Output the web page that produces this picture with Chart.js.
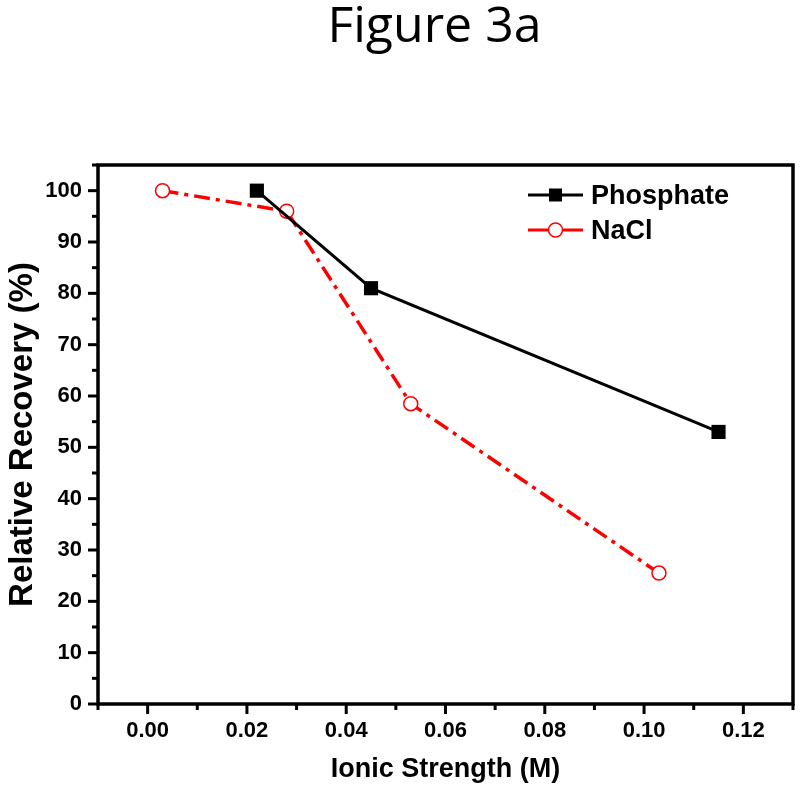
<!DOCTYPE html>
<html>
<head>
<meta charset="utf-8">
<script src="https://cdn.jsdelivr.net/npm/chart.js@4.4.0/dist/chart.umd.min.js"></script>
<style>
  body { margin: 0; background: #fff; }
  #wrap { width: 800px; height: 794px; }
</style>
</head>
<body>
<div id="wrap"><canvas id="chart" width="800" height="794"></canvas></div>
<script>
// Data
const phosphateX = [0.022, 0.045, 0.115];
const phosphateY = [100, 81, 53];
const naclX = [0.003, 0.028, 0.053, 0.103];
const naclY = [100, 96, 58.5, 25.5];
const seriesNames = ['Phosphate', 'NaCl'];

const toPoints = (xs, ys) => xs.map((x, i) => ({ x: x, y: ys[i] }));

// Ticks drawn by hand so that minor ticks can be shorter than major ones
const tickPlugin = {
    id: 'axisTicks',
    afterDraw(chart) {
        const { ctx, chartArea: a, scales } = chart;
        ctx.save();
        ctx.strokeStyle = '#000';
        ctx.lineWidth = 3.5;
        ctx.strokeRect(a.left, a.top, a.right - a.left, a.bottom - a.top);
        ctx.lineWidth = 3;
        scales.x.ticks.forEach(t => {
            const px = scales.x.getPixelForValue(t.value);
            const major = Math.round(t.value * 100) % 2 === 0;
            ctx.beginPath();
            ctx.moveTo(px, a.bottom);
            ctx.lineTo(px, a.bottom + (major ? 10 : 6));
            ctx.stroke();
        });
        scales.y.ticks.forEach(t => {
            const py = scales.y.getPixelForValue(t.value);
            const major = Math.round(t.value) % 10 === 0;
            ctx.beginPath();
            ctx.moveTo(a.left, py);
            ctx.lineTo(a.left - (major ? 10 : 6), py);
            ctx.stroke();
        });
        ctx.restore();
    }
};

// Figure caption, centred over the plot
const captionPlugin = {
    id: 'caption',
    afterDraw(chart) {
        const { ctx, chartArea: a } = chart;
        ctx.save();
        ctx.font = '50px "Open Sans", sans-serif';
        ctx.fillStyle = '#000';
        ctx.textAlign = 'center';
        ctx.textBaseline = 'alphabetic';
        ctx.fillText('Figure 3a', (a.left + a.right) / 2 - 11, 42);
        ctx.restore();
    }
};

// Legend inside the plot, top right
const legendPlugin = {
    id: 'innerLegend',
    afterDraw(chart) {
        const { ctx, chartArea: a } = chart;
        const x0 = a.right - 265, y0 = a.top + 30, gap = 35;
        ctx.save();
        ctx.font = 'bold 27px "Liberation Sans", Arial, sans-serif';
        ctx.textBaseline = 'alphabetic';
        chart.data.datasets.forEach((ds, i) => {
            const y = y0 + i * gap;
            ctx.strokeStyle = ds.borderColor;
            ctx.lineWidth = 3;
            ctx.setLineDash([]);
            ctx.beginPath();
            ctx.moveTo(x0, y);
            ctx.lineTo(x0 + 55, y);
            ctx.stroke();
            if (i === 0) {
                ctx.fillStyle = '#000';
                ctx.fillRect(x0 + 21, y - 6.5, 13, 13);
            } else {
                ctx.fillStyle = '#fff';
                ctx.lineWidth = 1.5;
                ctx.beginPath();
                ctx.arc(x0 + 27.5, y, 7, 0, Math.PI * 2);
                ctx.fill();
                ctx.stroke();
            }
            ctx.fillStyle = '#000';
            ctx.fillText(ds.label, x0 + 63, y + 9);
        });
        ctx.restore();
    }
};

const tickFont = { family: '"Liberation Sans", Arial, sans-serif', size: 22, weight: 'bold' };

new Chart(document.getElementById('chart'), {
    type: 'scatter',
    data: {
        datasets: [
            {
                label: seriesNames[0],
                data: toPoints(phosphateX, phosphateY),
                showLine: true,
                borderColor: '#000',
                backgroundColor: '#000',
                borderWidth: 3,
                pointStyle: 'rect',
                pointRadius: 10,
                pointBorderWidth: 0,
                pointBackgroundColor: '#000'
            },
            {
                label: seriesNames[1],
                data: toPoints(naclX, naclY),
                showLine: true,
                borderColor: '#ff0000',
                backgroundColor: '#fff',
                borderWidth: 3.5,
                borderDash: [16, 6, 4, 6],
                pointStyle: 'circle',
                pointRadius: 7,
                pointBorderWidth: 1.5,
                pointBorderColor: '#ff0000',
                pointBackgroundColor: '#fff'
            }
        ]
    },
    options: {
        responsive: false,
        animation: false,
        layout: { autoPadding: false, padding: { left: 0, right: 7, top: 165, bottom: 0 } },
        plugins: {
            legend: { display: false },
            tooltip: { enabled: false },
            title: { display: false }
        },
        scales: {
            x: {
                type: 'linear',
                min: -0.01,
                max: 0.13,
                border: { display: false },
                grid: { display: false, drawTicks: false },
                afterFit: s => { s.height = 90; s.paddingLeft = 0; s.paddingRight = 0; },
                ticks: {
                    stepSize: 0.01,
                    color: '#000',
                    font: tickFont,
                    padding: 14,
                    maxRotation: 0,
                    autoSkip: false,
                    callback: v => {
                        const k = Math.round(v * 100);
                        return (k % 2 === 0 && k >= 0 && k <= 12) ? (k / 100).toFixed(2) : '';
                    }
                },
                title: {
                    display: true, text: 'Ionic Strength (M)', color: '#000',
                    font: { family: '"Liberation Sans", Arial, sans-serif', size: 27, weight: 'bold', lineHeight: 1 },
                    padding: { top: 0, bottom: 11 }
                }
            },
            y: {
                min: 0,
                max: 105,
                border: { display: false },
                grid: { display: false, drawTicks: false },
                afterFit: s => { s.width = 98; },
                ticks: {
                    stepSize: 5,
                    color: '#000',
                    font: tickFont,
                    padding: 16,
                    autoSkip: false,
                    callback: v => (Math.round(v) % 10 === 0 ? String(v) : '')
                },
                title: {
                    display: true, text: 'Relative Recovery (%)', color: '#000',
                    font: { family: '"Liberation Sans", Arial, sans-serif', size: 33, weight: 'bold', lineHeight: 1 },
                    padding: { top: 6, bottom: 0 }
                }
            }
        }
    },
    plugins: [tickPlugin, legendPlugin, captionPlugin]
});
</script>
</body>
</html>
